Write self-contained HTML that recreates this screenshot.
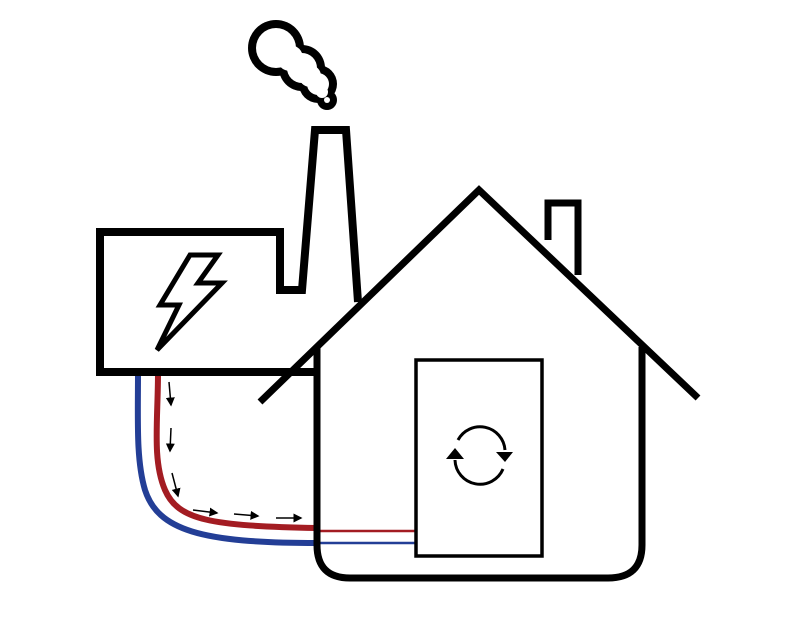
<!DOCTYPE html>
<html><head><style>html,body{margin:0;padding:0;background:#fff}svg{display:block}</style></head>
<body>
<svg width="800" height="639" viewBox="0 0 800 639" xmlns="http://www.w3.org/2000/svg">
<!-- cloud -->
<g fill="#000">
<circle cx="276" cy="48" r="28"/><circle cx="302" cy="68" r="23"/><circle cx="318" cy="84" r="19"/><circle cx="327" cy="100" r="10"/>
</g>
<g fill="#fff">
<circle cx="276" cy="48" r="20"/><circle cx="302" cy="68" r="15"/><circle cx="318" cy="84" r="11"/><circle cx="327" cy="100" r="3"/>
<circle cx="290" cy="58" r="13"/><circle cx="310" cy="76" r="11"/><circle cx="322" cy="92" r="6"/>
</g>
<!-- pipes -->
<path d="M138,373 C138,420 136,460 145,490 C158,530 200,543 317,543" fill="none" stroke="#233e96" stroke-width="6"/>
<path d="M158,373 C158,420 152,460 165,490 C178,520 210,526 317,528" fill="none" stroke="#a31c22" stroke-width="6"/>
<line x1="317" y1="531" x2="416" y2="531" stroke="#a31c22" stroke-width="2.5"/>
<line x1="317" y1="543" x2="416" y2="543" stroke="#233e96" stroke-width="2.5"/>
<!-- flow arrows -->
<defs><marker id="a" markerWidth="6" markerHeight="6" refX="5" refY="3" orient="auto"><path d="M0,0 L6,3 L0,6z" fill="#000"/></marker></defs>
<g stroke="#000" stroke-width="1.5" fill="none" marker-end="url(#a)">
<line x1="169" y1="382" x2="171" y2="405"/>
<line x1="171" y1="428" x2="170" y2="451"/>
<line x1="172" y1="473" x2="178" y2="496"/>
<line x1="193" y1="510" x2="217" y2="513"/>
<line x1="234" y1="514" x2="258" y2="516"/>
<line x1="276" y1="518" x2="301" y2="518"/>
</g>
<!-- factory -->
<path d="M315,372 L100,372 L100,232 L280,232 L280,290 L302,290 L315,130 L346,130 L358,302" fill="none" stroke="#000" stroke-width="8" stroke-linejoin="miter"/>
<!-- bolt -->
<path d="M190,255 L218,255 L198,283 L222,283 L157,350 L179,305 L160,305 Z" fill="none" stroke="#000" stroke-width="5" stroke-linejoin="miter"/>
<!-- small chimney -->
<path d="M548,240 L548,203 L578,203 L578,275" fill="none" stroke="#000" stroke-width="7"/>
<!-- roof -->
<path d="M260,402 L479,190 L698,398" fill="none" stroke="#000" stroke-width="7" stroke-linejoin="miter"/>
<!-- walls -->
<path d="M317,348 L317,545 Q317,578 350,578 L608,578 Q642,578 642,545 L642,347" fill="none" stroke="#000" stroke-width="7"/>
<!-- door -->
<rect x="416" y="360" width="126" height="196" fill="none" stroke="#000" stroke-width="3.5"/>
<!-- rotate icon -->
<g fill="none" stroke="#000" stroke-width="3">
<path d="M458,440 A25,25 0 0 1 505,450"/>
<path d="M503,469 A25,25 0 0 1 455,460"/>
</g>
<path d="M496,452 L513,452 L505,462 Z" fill="#000"/>
<path d="M446,459 L464,459 L455,448 Z" fill="#000"/>
</svg>
</body></html>
